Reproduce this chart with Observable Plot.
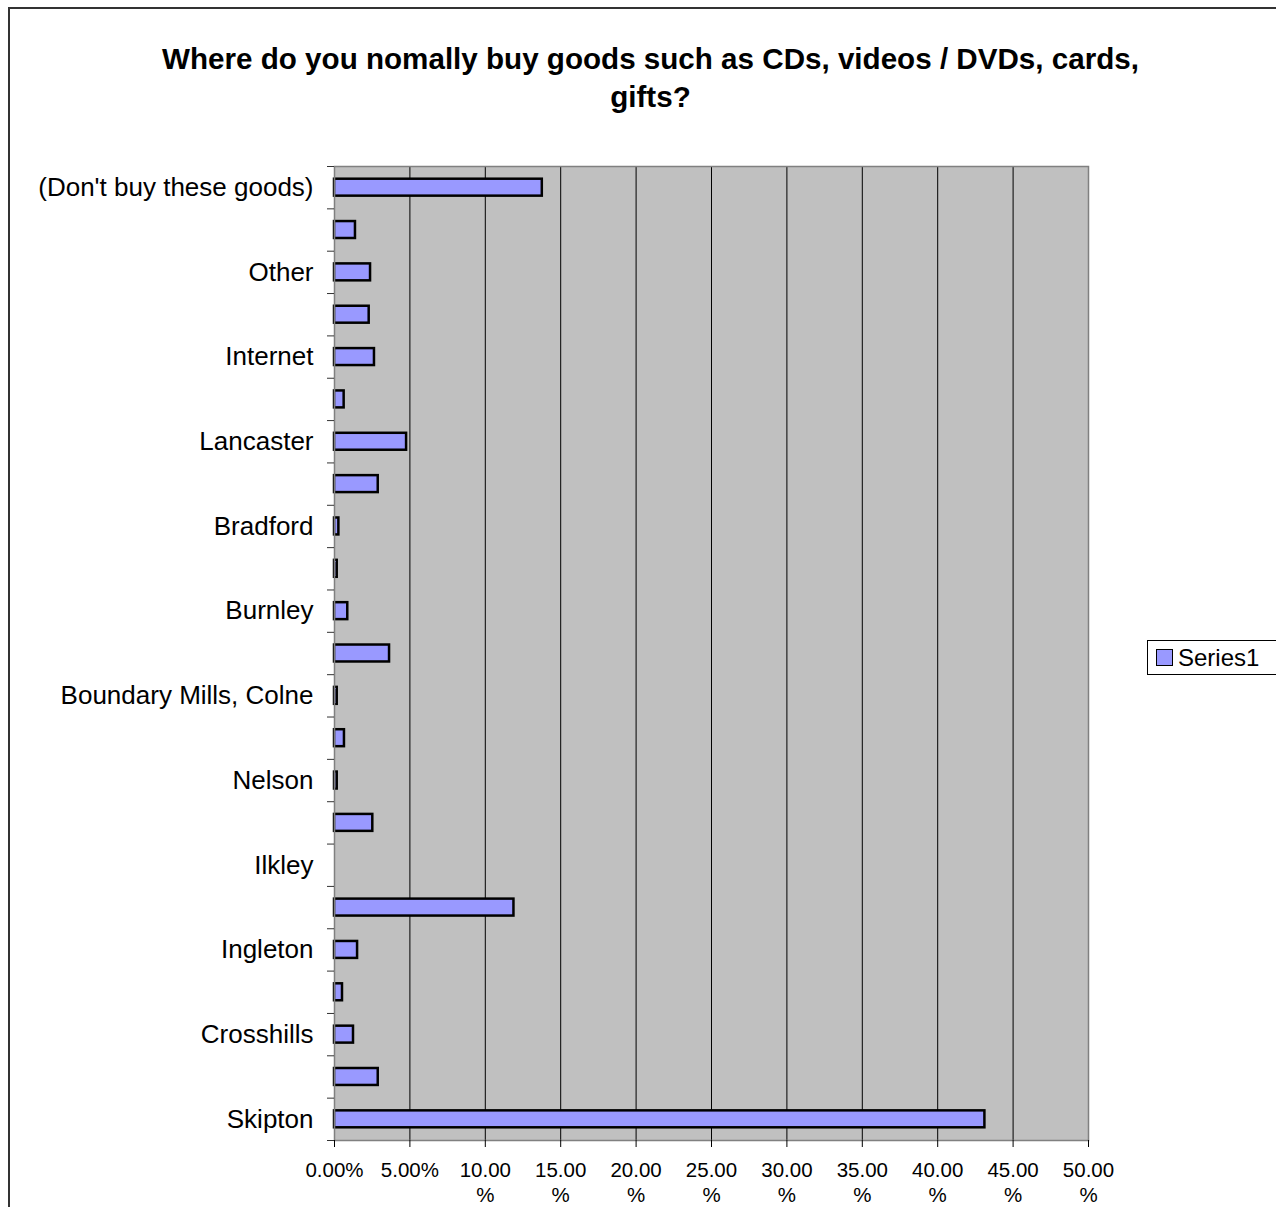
<!DOCTYPE html>
<html>
<head>
<meta charset="utf-8">
<script src="https://cdn.jsdelivr.net/npm/d3@7"></script>
<script src="https://cdn.jsdelivr.net/npm/@observablehq/plot@0.6"></script>
<style>
  html, body { margin: 0; padding: 0; background: #fff; overflow: hidden; }
  #wrap { position: relative; width: 1276px; height: 1207px; overflow: hidden; font-family: "Liberation Sans", Arial, sans-serif; }
  #border { position: absolute; left: 8px; top: 7px; width: 1400px; height: 1400px; border: 2px solid #333; }
  #title { position: absolute; left: 100px; width: 1101px; top: 40px; text-align: center; font-weight: bold; font-size: 29.6px; line-height: 38px; color: #000; }
  #chart { position: absolute; left: 0; top: 0; }
  #legend { position: absolute; left: 1147px; top: 640px; width: 160px; height: 33px; border: 1px solid #000; background: #fff; display: flex; align-items: center; }
  #legend .sw { width: 15px; height: 15px; background: #9999FF; border: 1px solid #000; margin-left: 8px; margin-right: 5px; }
  #legend .lb { font-size: 24px; color: #000; }
</style>
</head>
<body>
<div id="wrap">
  <div id="border"></div>
  <div id="chart"></div>
  <div id="title">Where do you nomally buy goods such as CDs, videos / DVDs, cards,<br>gifts?</div>
  <div id="legend"><div class="sw"></div><div class="lb">Series1</div></div>
</div>
<script>
// Categories listed from bottom (Skipton) to top; unlabelled categories are hidden in the original.
const categoryLabels = [
  "Skipton", "", "Crosshills", "", "Ingleton", "", "Ilkley", "", "Nelson", "",
  "Boundary Mills, Colne", "", "Burnley", "", "Bradford", "", "Lancaster", "",
  "Internet", "", "Other", "", "(Don't buy these goods)"
];
// Percentages (Series1), same order
const series1 = [
  43.13, 2.90, 1.26, 0.53, 1.53, 11.90, 0, 2.54, 0.18, 0.66,
  0.18, 3.65, 0.88, 0.18, 0.29, 2.90, 4.78, 0.64, 2.65, 2.30,
  2.39, 1.39, 13.78
];
const xTickValues = [0, 5, 10, 15, 20, 25, 30, 35, 40, 45, 50];
const xTickLabels = ["0.00%", "5.00%", "10.00\n%", "15.00\n%", "20.00\n%", "25.00\n%", "30.00\n%", "35.00\n%", "40.00\n%", "45.00\n%", "50.00\n%"];

const rows = series1.map((v, i) => ({i, v}));
const n = categoryLabels.length;

const chart = Plot.plot({
  width: 1276,
  height: 1207,
  marginLeft: 334,
  marginRight: 188,
  marginTop: 166,
  marginBottom: 67,
  style: {fontFamily: "'Liberation Sans', Arial, sans-serif", background: "transparent", color: "#000"},
  x: {domain: [0, 50]},
  y: {domain: [0, n]},
  marks: [
    Plot.frame({fill: "#C0C0C0", stroke: "none"}),
    Plot.ruleX(xTickValues.slice(1, -1), {stroke: "#000", strokeWidth: 1}),
    Plot.rectX(rows.filter(d => d.v > 0), {
      x1: 0, x2: "v", y1: "i", y2: d => d.i + 1,
      insetTop: 12.7, insetBottom: 12.7,
      fill: "#9999FF", stroke: "#000", strokeWidth: 2.5
    }),
    Plot.frame({stroke: "#808080", strokeWidth: 1.5}),
    Plot.axisX({
      ticks: xTickValues, tickSize: 7, tickPadding: 12,
      tickFormat: (d, k) => xTickLabels[k],
      fontSize: 20.5, lineHeight: 1.22, stroke: "#000", label: null
    }),
    Plot.axisY({
      ticks: d3.range(0, n + 1), tickSize: 7, tickFormat: () => "", stroke: "#333", label: null
    }),
    Plot.axisY({
      ticks: d3.range(0, n).map(i => i + 0.5), tickSize: 0, tickPadding: 21,
      tickFormat: d => categoryLabels[Math.floor(d)], fontSize: 26, label: null
    })
  ]
});
document.getElementById("chart").appendChild(chart);
</script>
</body>
</html>
